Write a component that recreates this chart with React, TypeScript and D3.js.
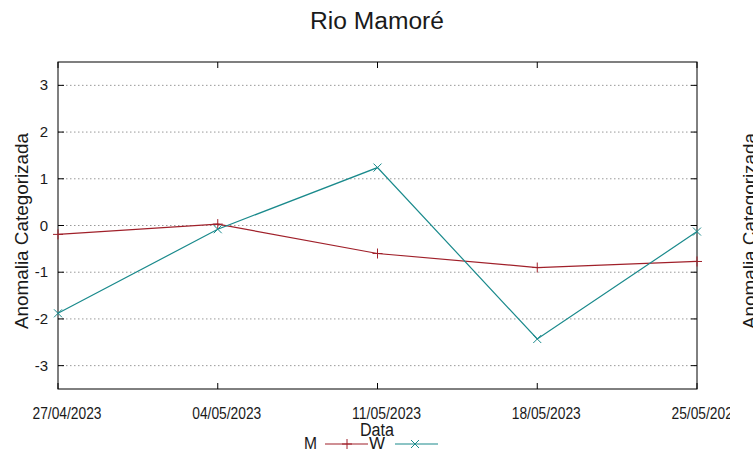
import React from 'react';
import { scaleLinear, scalePoint, line } from 'd3';

const dates = ['27/04/2023', '04/05/2023', '11/05/2023', '18/05/2023', '25/05/2023'];
const seriesM = [-0.19, 0.03, -0.6, -0.9, -0.77];
const seriesW = [-1.88, -0.08, 1.24, -2.43, -0.13];
const yTicks = [-3, -2, -1, 0, 1, 2, 3];

const W = 753;
const H = 459;
const m = { left: 58, right: 697, top: 62, bottom: 389 };
const RED = '#a0202a';
const TEAL = '#1a8a8c';
const INK = '#1a1a1a';

const App: React.FC = () => {
  const x = scalePoint<string>().domain(dates).range([m.left, m.right]);
  const y = scaleLinear().domain([-3.5, 3.5]).range([m.bottom, m.top]);

  const mk = line<number>()
    .x((_, i) => x(dates[i]) as number)
    .y(d => y(d));

  const plus = (cx: number, cy: number, k: string) => (
    <path key={k} d={`M${cx - 5},${cy}H${cx + 5}M${cx},${cy - 5}V${cy + 5}`} stroke={RED} strokeWidth={1} />
  );
  const cross = (cx: number, cy: number, k: string) => (
    <path key={k} d={`M${cx - 4},${cy - 4}L${cx + 4},${cy + 4}M${cx - 4},${cy + 4}L${cx + 4},${cy - 4}`} stroke={TEAL} strokeWidth={1} />
  );

  const font = "'Liberation Sans', Arial, sans-serif";

  return (
    <svg width={W} height={H} style={{ position: 'absolute', left: 0, top: 0 }} fontFamily={font}>
      <defs>
        <clipPath id="xlab">
          <rect x={0} y={395} width={730} height={40} />
        </clipPath>
      </defs>
      <rect width={W} height={H} fill="#fff" />
      <text x={377} y={29} textAnchor="middle" fontSize={23} textLength={134} lengthAdjust="spacingAndGlyphs" fill={INK}>Rio Mamoré</text>

      {yTicks.map(t => (
        <g key={t}>
          <line x1={m.left} x2={m.right} y1={y(t)} y2={y(t)} stroke="#999" strokeDasharray="1.5,2.5" />
          <line x1={m.left} x2={m.left + 6} y1={y(t)} y2={y(t)} stroke="#000" />
          <line x1={m.right - 6} x2={m.right} y1={y(t)} y2={y(t)} stroke="#000" />
          <text x={48} y={y(t) + 5} textAnchor="end" fontSize={15} fill={INK}>{t}</text>
        </g>
      ))}

      {dates.map(d => (
        <g key={d}>
          <line x1={x(d)} x2={x(d)} y1={m.bottom} y2={m.bottom - 6} stroke="#000" />
          <line x1={x(d)} x2={x(d)} y1={m.top} y2={m.top + 6} stroke="#000" />
          <text x={(x(d) as number) + 9} y={419} textAnchor="middle" fontSize={16} textLength={69} lengthAdjust="spacingAndGlyphs" fill={INK} clipPath="url(#xlab)">{d}</text>
        </g>
      ))}

      <rect x={m.left} y={m.top} width={m.right - m.left} height={m.bottom - m.top} fill="none" stroke="#000" strokeWidth={1} />

      <path d={mk(seriesM) ?? ''} fill="none" stroke={RED} strokeWidth={1.2} />
      <path d={mk(seriesW) ?? ''} fill="none" stroke={TEAL} strokeWidth={1.2} />
      {seriesM.map((v, i) => plus(x(dates[i]) as number, y(v), 'm' + i))}
      {seriesW.map((v, i) => cross(x(dates[i]) as number, y(v), 'w' + i))}

      <text transform={`translate(28,231) rotate(-90)`} textAnchor="middle" fontSize={19} textLength={196} lengthAdjust="spacingAndGlyphs" fill={INK}>Anomalia Categorizada</text>
      <text transform={`translate(756,231) rotate(-90)`} textAnchor="middle" fontSize={19} textLength={196} lengthAdjust="spacingAndGlyphs" fill={INK}>Anomalia Categorizada</text>
      <text x={377} y={436} textAnchor="middle" fontSize={18} textLength={34} lengthAdjust="spacingAndGlyphs" fill={INK}>Data</text>

      <text x={304} y={449} fontSize={17} textLength={13} lengthAdjust="spacingAndGlyphs" fill={INK}>M</text>
      <line x1={325} x2={368} y1={444} y2={444} stroke={RED} strokeWidth={1.2} />
      {plus(347, 444, 'lm')}
      <text x={369} y={449} fontSize={17} textLength={16} lengthAdjust="spacingAndGlyphs" fill={INK}>W</text>
      <line x1={395} x2={438} y1={444} y2={444} stroke={TEAL} strokeWidth={1.2} />
      {cross(415, 444, 'lw')}
    </svg>
  );
};

export default App;
